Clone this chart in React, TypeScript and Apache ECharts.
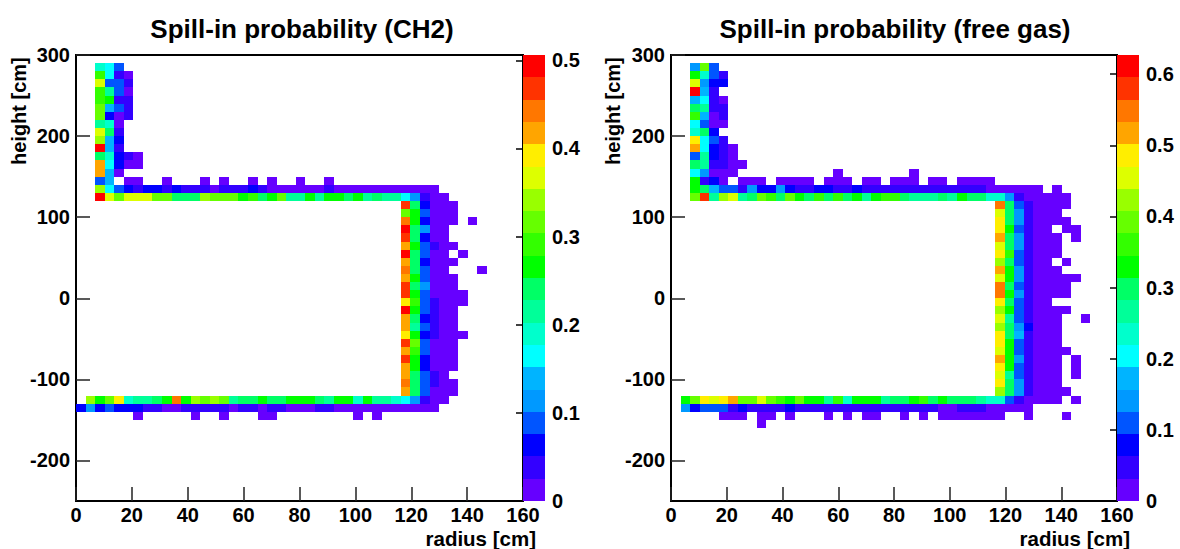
import React, { useEffect, useRef } from "react";
import * as echarts from "echarts";

const _ = null;
const palette = ["#6600ff", "#3300ff", "#0000ff", "#0055ff", "#0099ff", "#00b4ff", "#00ffff", "#00ffcc", "#00ff99", "#00ff66", "#00ff00", "#33ff00", "#66ff00", "#99ff00", "#ddff00", "#ffee00", "#ffa500", "#ff7700", "#ff3300", "#ff0000"];
const xBinWidth = 3.42;
const yBinHeight = 10;
const ch2Max = 0.506;
const gasMax = 0.627;
const yTicks = [300, 200, 100, 0, -100, -200];
const ch2Ticks = [0, 0.1, 0.2, 0.3, 0.4, 0.5];
const gasTicks = [0, 0.1, 0.2, 0.3, 0.4, 0.5, 0.6];

type Row = [number, number, (number | null)[]];

const ch2Rows: Row[] = [
  [285, 2, [7, 6, 3]],
  [275, 2, [11, 6, 1, 0]],
  [265, 2, [14, 3, 3, 1]],
  [255, 2, [11, 8, 3, 0]],
  [245, 2, [11, 10, 1, 1]],
  [235, 2, [12, 5, 3, 1]],
  [225, 2, [12, 2, 0, 1]],
  [215, 2, [8, 7, 0]],
  [205, 2, [14, 9, 1]],
  [195, 2, [13, 5, 2]],
  [185, 2, [19, 5, 1]],
  [175, 2, [9, 7, 2, 1, 0]],
  [165, 2, [16, 6, 2, 0, 0]],
  [155, 2, [16, 5, 0]],
  [145, 2, [3, 5, _, 0, 0, _, _, 0, _, _, _, 0, _, 0, _, _, 0, _, 0, _, _, 0, _, _, 0]],
  [135, 2, [13, 6, 3, 2, 1, 2, 2, 1, 2, 1, 1, 1, 0, 1, 1, 1, 2, 1, 0, 0, 0, 0, 0, 0, 1, 0, 0, 0, 0, 0, 0, 0, 0, 0, 0, 0]],
  [125, 2, [19, 14, 12, 14, 14, 14, 12, 12, 9, 9, 9, 13, 12, 12, 12, 10, 11, 9, 10, 12, 8, 8, 10, 8, 10, 10, 9, 10, 8, 9, 8, 8, 6, 4, 1, 0, 0]],
  [115, 34, [18, 9, 2, 0, 0, 0]],
  [105, 34, [12, 10, 3, 0, 0, 0]],
  [95, 34, [17, 10, 2, 0, 0, 0, _, 0]],
  [85, 34, [19, 9, 4, 0, 0]],
  [75, 34, [18, 9, 2, 0, 0]],
  [65, 34, [16, 10, 3, 1, 0, 0]],
  [55, 34, [19, 9, 3, 0, 0, _, 0]],
  [45, 34, [16, 9, 2, 0, 0, 0]],
  [35, 34, [17, 9, 3, 0, 0, _, _, _, 0]],
  [25, 34, [16, 10, 3, 0, 0, 0]],
  [15, 34, [18, 9, 4, 0, 0, 0]],
  [5, 34, [18, 10, 3, 0, 0, 0, 0]],
  [-5, 34, [15, 11, 3, 1, 0, 0, 0]],
  [-15, 34, [19, 10, 3, 1, 0, 0]],
  [-25, 34, [16, 9, 2, 1, 0, 0]],
  [-35, 34, [16, 8, 3, 1, 0, 0]],
  [-45, 34, [15, 10, 2, 1, 0, 0, 0]],
  [-55, 34, [18, 12, 3, 0, 0, 0]],
  [-65, 34, [16, 11, 3, 0, 0, 0]],
  [-75, 34, [18, 10, 2, 0, 0, 0]],
  [-85, 34, [16, 10, 2, 0, 0, 0]],
  [-95, 34, [16, 9, 3, 1, 0]],
  [-105, 34, [17, 9, 3, 1, 0, 0]],
  [-115, 34, [16, 9, 3, 0, 0, 0]],
  [-125, 1, [13, 10, 12, 15, 7, 8, 8, 9, 10, 17, 10, 13, 12, 13, 12, 8, 9, 9, 10, 9, 9, 10, 10, 10, 9, 8, 10, 10, 7, 10, 8, 8, 7, 6, 4, 1, 0, 0]],
  [-135, 0, [2, 4, 2, 3, 2, 2, 2, 1, 1, 0, 0, 1, 1, 1, 1, 1, 0, 1, 1, 0, 1, 1, 0, 0, 0, 1, 1, 0, 0, 0, 0, 0, 0, 0, 0, 0, 0, 0]],
  [-145, 6, [0, _, _, _, _, _, 0, _, _, 0, _, _, _, 0, 0, _, _, _, _, _, _, _, _, 0, _, 0]],
];

const gasRows: Row[] = [
  [285, 2, [4, 12, 3]],
  [275, 2, [10, 7, 3, 1]],
  [265, 2, [14, 4, 2, 2]],
  [255, 2, [19, 5, 1]],
  [245, 2, [5, 6, 1, 0]],
  [235, 2, [9, 8, 1, 1]],
  [225, 2, [11, 5, 0, 1]],
  [215, 2, [6, 3, 0, 0]],
  [205, 2, [7, 9, 2]],
  [195, 2, [15, 6, 3, 1]],
  [185, 2, [16, 6, 2, 1, 0]],
  [175, 2, [3, 8, 2, 1, 0]],
  [165, 2, [9, 8, 1, 1, 0, 0]],
  [155, 2, [6, 4, 0, 0, 0, _, _, _, _, _, _, _, _, _, _, 0, _, _, _, _, _, _, _, 0]],
  [145, 2, [10, 1, 2, 0, _, 0, 0, 0, _, 0, 0, 0, 0, _, 0, 0, 0, _, 0, 0, _, 0, 0, 0, _, 0, 0, _, 0, 0, 0, 0]],
  [135, 2, [10, 9, 5, 3, 3, 1, 4, 2, 2, 4, 2, 1, 1, 2, 2, 1, 1, 2, 1, 1, 1, 1, 1, 1, 1, 1, 1, 1, 1, 1, 1, 0, 0, 0, 0, 0, 0, _, 0]],
  [125, 2, [12, 18, 8, 13, 14, 8, 9, 12, 11, 9, 12, 10, 9, 11, 9, 11, 9, 10, 8, 10, 11, 11, 9, 8, 8, 8, 9, 8, 10, 9, 9, 7, 7, 4, 1, 0, 0, 0, 0, 0]],
  [115, 34, [17, 9, 3, 1, 0, 0, 0, 0]],
  [105, 34, [14, 9, 4, 1, 0, 0, 0]],
  [95, 34, [15, 9, 4, 1, 0, 0, 0, 0]],
  [85, 34, [15, 10, 3, 1, 0, 0, _, 0, 0]],
  [75, 34, [16, 9, 4, 1, 0, 0, 0, _, 0]],
  [65, 34, [14, 9, 4, 1, 0, 0, 0]],
  [55, 34, [15, 11, 3, 1, 0, 0, 0]],
  [45, 34, [13, 9, 3, 1, 0, 0, _, 0]],
  [35, 34, [16, 10, 4, 1, 0, 0, 0]],
  [25, 34, [14, 10, 4, 1, 0, 0, 0, 0, 0]],
  [15, 34, [17, 9, 3, 1, 0, 0, 0, 0]],
  [5, 34, [17, 10, 4, 1, 0, 0, 0, 0]],
  [-5, 34, [15, 9, 3, 1, 0, 0]],
  [-15, 34, [13, 10, 3, 1, 0, 0, 0, 0]],
  [-25, 34, [14, 8, 3, 1, 0, 0, 0, _, _, 0]],
  [-35, 34, [13, 9, 4, 2, 0, 0, 0]],
  [-45, 34, [15, 9, 5, 1, 0, 0, 0]],
  [-55, 34, [15, 10, 3, 1, 0, 0, 0]],
  [-65, 34, [14, 10, 3, 1, 0, 0, 0, 0]],
  [-75, 34, [16, 10, 4, 1, 0, 0, 0, _, 0]],
  [-85, 34, [15, 10, 3, 1, 0, 0, 0, _, 0]],
  [-95, 34, [14, 8, 3, 1, 0, 0, 0, _, 0]],
  [-105, 34, [15, 9, 4, 1, 0, 0, 0]],
  [-115, 34, [13, 9, 4, 1, 0, 0, 0, 0]],
  [-125, 1, [10, 12, 15, 14, 15, 16, 12, 12, 14, 12, 11, 10, 12, 10, 10, 8, 11, 7, 10, 10, 10, 8, 9, 9, 10, 11, 9, 10, 9, 9, 9, 8, 7, 7, 3, 1, 0, 0, 0, 0, _, 0]],
  [-135, 1, [4, 2, 3, 3, 3, 1, 2, 1, 1, 1, 1, 2, 1, 1, 1, 1, 1, 1, 1, 1, 1, 1, 1, 1, 1, 1, 1, 0, 0, 1, 1, 1, 0, 0, 0, 0, 0]],
  [-145, 5, [0, 0, 0, _, 0, 0, _, 0, _, _, _, 0, _, 0, _, 0, 0, _, _, 0, _, 0, _, 0, 0, 0, 0, 0, 0, 0, _, _, 0, _, _, _, 0]],
  [-155, 9, [0]],
];

const FONT = "Liberation Sans";

function cells(rows: Row[]) {
  const out: number[][] = [];
  rows.forEach(([y, start, levels]) => {
    levels.forEach((l, i) => {
      if (l === null) return;
      const c = start + i;
      out.push([c * xBinWidth, (c + 1) * xBinWidth, y - yBinHeight / 2, y + yBinHeight / 2, l]);
    });
  });
  return out;
}

const renderCell = (_p: any, api: any) => {
  const a = api.coord([api.value(0), api.value(3)]);
  const b = api.coord([api.value(1), api.value(2)]);
  const x = Math.round(a[0]);
  const y = Math.round(a[1]);
  return {
    type: "rect",
    shape: { x, y, width: Math.round(b[0]) - x, height: Math.round(b[1]) - y },
    style: { fill: palette[api.value(4)] },
  };
};

function barCells(max: number) {
  return palette.map((_c, i) => [0, 1, (i * max) / 20, ((i + 1) * max) / 20, i]);
}

function mainAxes(gridIndex: number) {
  return {
    x: {
      type: "value", gridIndex, min: 0, max: 160, interval: 20,
      axisLine: { onZero: false, lineStyle: { color: "#000", width: 2 } },
      axisTick: { inside: true, length: 14, lineStyle: { color: "#222", width: 1.5 } },
      axisLabel: { color: "#000", fontFamily: FONT, fontWeight: "bold", fontSize: 20, margin: 4 },
      splitLine: { show: false },
    },
    y: {
      type: "value", gridIndex, min: -250, max: 300,
      axisLine: { show: true, onZero: false, lineStyle: { color: "#000", width: 2 } },
      axisTick: { show: true, inside: true, length: 14, customValues: yTicks, lineStyle: { color: "#222", width: 1.5 } },
      axisLabel: { color: "#000", fontFamily: FONT, fontWeight: "bold", fontSize: 20, margin: 6, customValues: yTicks },
      splitLine: { show: false },
    },
  };
}

function barAxes(gridIndex: number, max: number, ticks: number[]) {
  return {
    x: { type: "value", gridIndex, min: 0, max: 1, show: false },
    y: {
      type: "value", gridIndex, min: 0, max, position: "right",
      axisLine: { show: true, lineStyle: { color: "#000", width: 1 } },
      axisTick: { show: true, inside: true, length: 7, customValues: ticks, lineStyle: { color: "#000", width: 1.5 } },
      axisLabel: { color: "#000", fontFamily: FONT, fontWeight: "bold", fontSize: 20, margin: 7, customValues: ticks },
      splitLine: { show: false },
    },
  };
}

export default function App() {
  const ref = useRef<HTMLDivElement>(null);
  useEffect(() => {
    document.body.style.margin = "0";
    const chart = echarts.init(ref.current!, null, { renderer: "svg" });
    const m0 = mainAxes(0), b0 = barAxes(1, ch2Max, ch2Ticks), m1 = mainAxes(2), b1 = barAxes(3, gasMax, gasTicks);
    const nameStyle = { fill: "#000", fontFamily: FONT, fontWeight: "bold", fontSize: 20 };
    const titleStyle = { fontFamily: FONT, fontWeight: "bold", fontSize: 26, color: "#000" };
    chart.setOption({
      animation: false,
      backgroundColor: "#fff",
      title: [
        { text: "Spill-in probability (CH2)", left: 297, top: 11, textAlign: "center", textStyle: titleStyle },
        { text: "Spill-in probability (free gas)", left: 890, top: 11, textAlign: "center", textStyle: titleStyle },
      ],
      grid: [
        { left: 76, top: 55, width: 447, height: 446, show: true, borderColor: "#000", borderWidth: 2, backgroundColor: "#fff" },
        { left: 523, top: 55, width: 22, height: 446 },
        { left: 671, top: 55, width: 446, height: 446, show: true, borderColor: "#000", borderWidth: 2, backgroundColor: "#fff" },
        { left: 1117, top: 55, width: 22, height: 446 },
      ],
      xAxis: [m0.x, b0.x, m1.x, b1.x],
      yAxis: [m0.y, b0.y, m1.y, b1.y],
      series: [
        { type: "custom", xAxisIndex: 0, yAxisIndex: 0, renderItem: renderCell, data: cells(ch2Rows), encode: { x: [0, 1], y: [2, 3] }, silent: true },
        { type: "custom", xAxisIndex: 1, yAxisIndex: 1, renderItem: renderCell, data: barCells(ch2Max), encode: { x: [0, 1], y: [2, 3] }, silent: true },
        { type: "custom", xAxisIndex: 2, yAxisIndex: 2, renderItem: renderCell, data: cells(gasRows), encode: { x: [0, 1], y: [2, 3] }, silent: true },
        { type: "custom", xAxisIndex: 3, yAxisIndex: 3, renderItem: renderCell, data: barCells(gasMax), encode: { x: [0, 1], y: [2, 3] }, silent: true },
      ],
      graphic: [
        { type: "text", x: 536, y: 528, style: { ...nameStyle, fontSize: 20.5, text: "radius [cm]", align: "right", verticalAlign: "top" } },
        { type: "text", x: 1130, y: 528, style: { ...nameStyle, fontSize: 20.5, text: "radius [cm]", align: "right", verticalAlign: "top" } },
        { type: "text", x: 19, y: 165, rotation: Math.PI / 2, style: { ...nameStyle, text: "height [cm]", align: "left", verticalAlign: "middle" } },
        { type: "text", x: 613, y: 165, rotation: Math.PI / 2, style: { ...nameStyle, text: "height [cm]", align: "left", verticalAlign: "middle" } },
      ],
    });
    return () => chart.dispose();
  }, []);
  return <div ref={ref} style={{ position: "fixed", left: 0, top: 0, width: 1180, height: 549 }} />;
}
